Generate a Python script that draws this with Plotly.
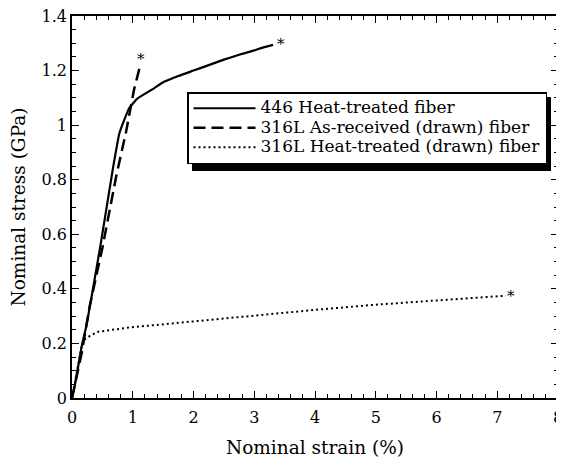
import plotly.graph_objects as go

# ---- data ----
strain_446 = [0, 0.05, 0.16, 0.24, 0.47, 0.67, 0.78, 0.86, 0.94, 1.08, 1.35,
              1.5, 1.75, 2.0, 2.25, 2.5, 2.75, 3.0, 3.15, 3.31]
stress_446 = [0, 0.05, 0.19, 0.268, 0.561, 0.836, 0.97, 1.019, 1.062, 1.098, 1.135,
              1.157, 1.18, 1.20, 1.22, 1.24, 1.258, 1.274, 1.285, 1.294]

strain_316_ar = [0, 0.16, 0.29, 0.50, 0.73, 0.89, 1.02, 1.11]
stress_316_ar = [0, 0.165, 0.335, 0.55, 0.815, 0.976, 1.129, 1.208]

strain_316_ht = [0, 0.08, 0.15, 0.19, 0.29, 0.43, 0.70, 0.97, 1.35, 2.0, 3.0, 4.0, 5.0, 6.0, 7.0, 7.14]
stress_316_ht = [0, 0.10, 0.18, 0.212, 0.227, 0.243, 0.252, 0.259, 0.267, 0.281, 0.303, 0.323,
                 0.342, 0.358, 0.372, 0.375]

names = ["446 Heat-treated fiber", "316L As-received (drawn) fiber", "316L Heat-treated (drawn) fiber"]

# failure markers (asterisks)
star_x = [3.44, 1.13, 7.23]
star_y = [1.298, 1.243, 0.375]

FONT = "DejaVu Serif"
LEGEND_TEXT_SIZE = 17


def legend_label(text):
    return f'<span style="font-size:{LEGEND_TEXT_SIZE}px">{text}</span>'


fig = go.Figure()
fig.add_trace(go.Scatter(x=strain_446, y=stress_446, mode="lines", name=legend_label(names[0]),
                         line=dict(color="black", width=2.2, shape="spline", smoothing=0.4)))
fig.add_trace(go.Scatter(x=strain_316_ar, y=stress_316_ar, mode="lines", name=legend_label(names[1]),
                         line=dict(color="black", width=2.5, dash="12px,6px")))
fig.add_trace(go.Scatter(x=strain_316_ht, y=stress_316_ht, mode="lines", name=legend_label(names[2]),
                         line=dict(color="black", width=2, dash="2px,3px")))

for sx, sy in zip(star_x, star_y):
    fig.add_annotation(x=sx, y=sy, text="*", showarrow=False, xref="x", yref="y",
                       font=dict(family=FONT, size=15, color="black"))

axis_common = dict(showgrid=False, zeroline=False, showline=True, linecolor="black", linewidth=1.5,
                   mirror="allticks", ticks="inside", ticklen=7, tickwidth=1.3, tickcolor="black",
                   automargin=False, ticklabeloverflow="allow",
                   tickfont=dict(family=FONT, size=16, color="black"))

fig.update_xaxes(range=[0, 8], dtick=1, tick0=0, ticklabelstandoff=4,
                 title=dict(text="Nominal strain (%)", font=dict(family=FONT, size=18.5, color="black"), standoff=18),
                 minor=dict(dtick=0.2, ticks="inside", ticklen=4, tickwidth=1.2, tickcolor="black"),
                 **axis_common)
fig.update_yaxes(range=[0, 1.4], dtick=0.2, tick0=0,
                 title=dict(text="Nominal stress (GPa)", font=dict(family=FONT, size=18.5, color="black"), standoff=14),
                 minor=dict(dtick=0.05, ticks="inside", ticklen=4, tickwidth=1.2, tickcolor="black"),
                 **axis_common)

PW = 486.0  # plot-area width in px
PH = 382.0  # plot-area height in px


def px_x(v):
    return (v - 72) / PW


def px_y(v):
    return (398 - v) / PH


# legend shadow (offset 5 px right/down from the legend box)
fig.add_shape(type="rect", xref="paper", yref="paper",
              x0=px_x(192), x1=px_x(551), y0=px_y(171), y1=px_y(97),
              fillcolor="black", line=dict(width=0), layer="below")

# the page body adds an 8 px offset, so the figure is 8 px smaller on each axis
fig.update_layout(
    width=556, height=450,
    margin=dict(l=64, r=6, t=8, b=60),
    paper_bgcolor="white", plot_bgcolor="white",
    font=dict(family=FONT, color="black"),
    legend=dict(x=px_x(187), y=px_y(92), xanchor="left", yanchor="top",
                bgcolor="white", bordercolor="black", borderwidth=1.5,
                font=dict(family=FONT, size=12.7, color="black"),
                tracegroupgap=0, itemwidth=62),
    showlegend=True,
)

fig.write_html("out.html")
